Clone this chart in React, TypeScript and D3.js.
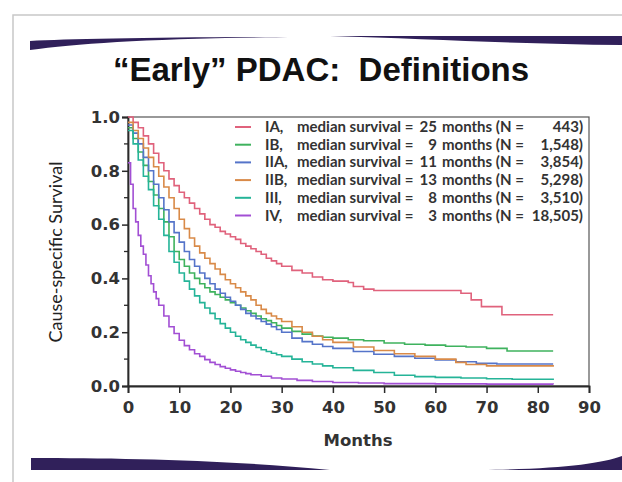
import React, { useEffect, useRef } from 'react';
import * as d3 from 'd3';

// Kaplan-Meier curves (months, cause-specific survival)
const stageLabels = ['IA,', 'IB,', 'IIA,', 'IIB,', 'III,', 'IV,'];
const medianMonths = ['25', '9', '11', '13', '8', '3'];
const patientCounts = ['443', '1,548', '3,854', '5,298', '3,510', '18,505'];
const stageColors = ['#e0627c', '#3fb25e', '#5574c9', '#d98a48', '#25b498', '#a24fd4'];

const monthsIA = [0, 1, 2, 3, 4, 5, 6, 7, 8, 9, 10, 11, 12, 13, 14, 15, 16, 17, 18, 19, 20, 21, 22, 23, 24, 25, 26, 27, 28, 29, 30, 32, 34, 36, 38, 40, 43, 44, 46, 48, 65, 67, 69, 73, 83];
const survIA = [1.0, 0.98, 0.96, 0.93, 0.9, 0.865, 0.83, 0.8, 0.77, 0.745, 0.72, 0.7, 0.68, 0.66, 0.64, 0.62, 0.6, 0.59, 0.575, 0.565, 0.555, 0.545, 0.53, 0.52, 0.51, 0.5, 0.49, 0.475, 0.465, 0.455, 0.445, 0.43, 0.42, 0.405, 0.395, 0.39, 0.385, 0.37, 0.36, 0.355, 0.345, 0.32, 0.295, 0.265, 0.265];

const monthsIB = [0, 1, 2, 3, 4, 5, 6, 7, 8, 9, 10, 11, 12, 13, 14, 15, 16, 17, 18, 19, 20, 21, 22, 23, 24, 25, 26, 27, 28, 29, 30, 32, 34, 36, 38, 40, 43, 46, 50, 54, 58, 62, 66, 70, 74, 83];
const survIB = [0.96, 0.92, 0.87, 0.82, 0.76, 0.71, 0.66, 0.61, 0.555, 0.5, 0.47, 0.445, 0.42, 0.4, 0.38, 0.365, 0.35, 0.34, 0.33, 0.32, 0.31, 0.3, 0.29, 0.28, 0.27, 0.26, 0.25, 0.243, 0.235, 0.225, 0.215, 0.203, 0.193, 0.186, 0.181, 0.178, 0.172, 0.168, 0.16, 0.155, 0.152, 0.148, 0.145, 0.14, 0.13, 0.13];

const monthsIIA = [0, 1, 2, 3, 4, 5, 6, 7, 8, 9, 10, 11, 12, 13, 14, 15, 16, 17, 18, 19, 20, 21, 22, 23, 24, 25, 26, 27, 28, 29, 30, 32, 34, 36, 38, 40, 44, 48, 52, 56, 60, 64, 68, 72, 83];
const survIIA = [0.97, 0.94, 0.9, 0.85, 0.8, 0.75, 0.7, 0.655, 0.61, 0.57, 0.535, 0.5, 0.47, 0.445, 0.42, 0.4, 0.38, 0.36, 0.345, 0.33, 0.315, 0.3, 0.285, 0.27, 0.26, 0.25, 0.24, 0.23, 0.22, 0.21, 0.2, 0.178, 0.165, 0.155, 0.147, 0.14, 0.128, 0.118, 0.11, 0.103, 0.097, 0.09, 0.084, 0.082, 0.082];

const monthsIIB = [0, 1, 2, 3, 4, 5, 6, 7, 8, 9, 10, 11, 12, 13, 14, 15, 16, 17, 18, 19, 20, 21, 22, 23, 24, 25, 26, 27, 28, 29, 30, 32, 34, 36, 38, 40, 44, 48, 52, 56, 60, 64, 66, 70, 83];
const survIIB = [0.98, 0.95, 0.92, 0.885, 0.85, 0.815, 0.78, 0.74, 0.7, 0.66, 0.62, 0.585, 0.55, 0.52, 0.495, 0.475, 0.455, 0.435, 0.415, 0.395, 0.38, 0.365, 0.35, 0.335, 0.32, 0.3, 0.285, 0.27, 0.26, 0.25, 0.24, 0.22, 0.2, 0.185, 0.172, 0.162, 0.145, 0.132, 0.12, 0.11, 0.1, 0.088, 0.08, 0.075, 0.072];

const monthsIII = [0, 1, 2, 3, 4, 5, 6, 7, 8, 9, 10, 11, 12, 13, 14, 15, 16, 17, 18, 19, 20, 21, 22, 23, 24, 25, 26, 27, 28, 29, 30, 32, 34, 36, 38, 40, 44, 48, 52, 56, 60, 65, 70, 75, 83];
const survIII = [0.95, 0.9, 0.84, 0.78, 0.73, 0.67, 0.62, 0.56, 0.5, 0.46, 0.42, 0.39, 0.36, 0.335, 0.31, 0.29, 0.27, 0.25, 0.232, 0.215, 0.2, 0.185, 0.172, 0.162, 0.152, 0.143, 0.135, 0.128, 0.122, 0.116, 0.11, 0.1, 0.09, 0.082, 0.075, 0.068, 0.058, 0.05, 0.04, 0.035, 0.032, 0.03, 0.027, 0.025, 0.022];

const monthsIV = [0, 0.5, 1, 1.5, 2, 2.5, 3, 3.5, 4, 4.5, 5, 5.5, 6, 7, 8, 9, 10, 11, 12, 13, 14, 15, 16, 17, 18, 19, 20, 21, 22, 23, 24, 26, 28, 30, 33, 36, 40, 45, 50, 60, 70, 83];
const survIV = [0.83, 0.75, 0.66, 0.61, 0.56, 0.52, 0.49, 0.45, 0.41, 0.38, 0.35, 0.325, 0.3, 0.26, 0.22, 0.195, 0.17, 0.15, 0.135, 0.12, 0.11, 0.098, 0.088, 0.08, 0.072, 0.066, 0.06, 0.055, 0.05, 0.046, 0.042, 0.036, 0.03, 0.026, 0.021, 0.017, 0.013, 0.011, 0.009, 0.008, 0.007, 0.006];

const seriesMonths = [monthsIA, monthsIB, monthsIIA, monthsIIB, monthsIII, monthsIV];
const seriesSurv = [survIA, survIB, survIIA, survIIB, survIII, survIV];

const xTicks = [0, 10, 20, 30, 40, 50, 60, 70, 80, 90];
const yTicks = [0, 0.2, 0.4, 0.6, 0.8, 1.0];
const yMinorTicks = [0.1, 0.3, 0.5, 0.7, 0.9];

const W = 622;
const H = 482;

const App: React.FC = () => {
  const svgRef = useRef<SVGSVGElement>(null);

  useEffect(() => {
    if (!svgRef.current) return;
    const svg = d3.select(svgRef.current);
    svg.selectAll('*').remove();

    // slide background with a faint edge
    svg.append('rect').attr('width', W).attr('height', H).attr('fill', '#fff');
    svg.append('rect')
      .attr('x', 13).attr('y', 15).attr('width', W).attr('height', H)
      .attr('fill', '#fff').attr('stroke', '#c8c8c8').attr('stroke-width', 1.5);

    // purple swooshes, top and bottom
    const band = '#30205a';
    svg.append('path')
      .attr('d', 'M30,41 C70,39 160,37 300,37 C160,38 80,43 30,50 Z')
      .attr('fill', band);
    svg.append('path')
      .attr('d', 'M330,36 L622,36 L622,45 C520,44 430,39 330,36 Z')
      .attr('fill', band);
    svg.append('path')
      .attr('d', 'M31,458 C120,458 230,460 330,470 L31,470 Z')
      .attr('fill', band);
    svg.append('path')
      .attr('d', 'M480,470 C560,469 600,464 622,456 L622,470 Z')
      .attr('fill', band);

    // title
    svg.append('text')
      .attr('x', 321).attr('y', 81)
      .attr('text-anchor', 'middle')
      .style('font-family', '"Liberation Sans", Arial, sans-serif')
      .style('font-weight', 'bold')
      .style('font-size', '33px')
      .attr('fill', '#111')
      .text('\u201CEarly\u201D PDAC:\u00A0\u00A0Definitions');

    const x = d3.scaleLinear().domain([0, 90]).range([128, 589]);
    const y = d3.scaleLinear().domain([0, 1]).range([386, 117]);
    const axisColor = '#2a2a2a';
    const font = 'Lato, "Open Sans", sans-serif';
    const tickFont = '"DejaVu Sans", Verdana, sans-serif';

    // plot frame
    svg.append('rect')
      .attr('x', x(0)).attr('y', y(1))
      .attr('width', x(90) - x(0)).attr('height', y(0) - y(1))
      .attr('fill', 'none').attr('stroke', '#555').attr('stroke-width', 1.2);

    // axes
    const gx = svg.append('g').attr('transform', `translate(0,${y(0)})`)
      .call(d3.axisBottom(x).tickValues(xTicks).tickSize(7).tickFormat(d3.format('d')));
    gx.select('.domain').attr('stroke', axisColor).attr('stroke-width', 1.8);
    gx.selectAll('.tick line').attr('stroke', axisColor).attr('stroke-width', 1.5);
    gx.selectAll('.tick text')
      .attr('dy', '1.0em').attr('fill', '#333')
      .style('font-family', tickFont).style('font-weight', 'bold').style('font-size', '16.5px');

    const gy = svg.append('g').attr('transform', `translate(${x(0)},0)`)
      .call(d3.axisLeft(y).tickValues(yTicks).tickSize(6).tickPadding(2).tickFormat(d3.format('.1f')));
    gy.select('.domain').attr('stroke', axisColor).attr('stroke-width', 1.8);
    gy.selectAll('.tick line').attr('stroke', axisColor).attr('stroke-width', 1.5);
    gy.selectAll('.tick text')
      .attr('fill', '#333')
      .style('font-family', tickFont).style('font-weight', 'bold').style('font-size', '16.5px');

    svg.append('g').selectAll('line').data(yMinorTicks).enter().append('line')
      .attr('x1', x(0) - 4).attr('x2', x(0))
      .attr('y1', d => y(d)).attr('y2', d => y(d))
      .attr('stroke', axisColor).attr('stroke-width', 1.3);

    // axis titles
    svg.append('text')
      .attr('x', 358).attr('y', 446)
      .attr('text-anchor', 'middle')
      .style('font-family', tickFont).style('font-weight', 'bold').style('font-size', '16.5px')
      .attr('fill', '#333')
      .text('Months');
    svg.append('text')
      .attr('transform', 'translate(62,252) rotate(-90)')
      .attr('text-anchor', 'middle')
      .style('font-family', font).style('font-size', '18px')
      .attr('fill', '#222')
      .text('Cause-specific Survival');

    // survival curves (step functions)
    const line = d3.line<[number, number]>()
      .x(d => x(d[0]))
      .y(d => y(d[1]))
      .curve(d3.curveStepAfter);

    seriesMonths.forEach((months, i) => {
      const pts: [number, number][] = months.map((m, j) => [m, seriesSurv[i][j]]);
      svg.append('path')
        .datum(pts)
        .attr('d', line)
        .attr('fill', 'none')
        .attr('stroke', stageColors[i])
        .attr('stroke-width', 1.6);
    });

    // legend
    const legend = svg.append('g');
    stageLabels.forEach((lab, i) => {
      const cy = 127 + i * 17.7;
      const row = legend.append('g')
        .style('font-family', font).style('font-weight', 'bold').style('font-size', '15px')
        .attr('fill', '#333');
      row.append('line')
        .attr('x1', 235).attr('x2', 251).attr('y1', cy).attr('y2', cy)
        .attr('stroke', stageColors[i]).attr('stroke-width', 2);
      row.append('text').attr('x', 265).attr('y', cy + 5).text(lab);
      row.append('text').attr('x', 297).attr('y', cy + 5).text('median survival =');
      row.append('text').attr('x', 437).attr('y', cy + 5).attr('text-anchor', 'end').text(medianMonths[i]);
      row.append('text').attr('x', 442).attr('y', cy + 5).text('months (N =');
      row.append('text').attr('x', 583).attr('y', cy + 5).attr('text-anchor', 'end').text(patientCounts[i] + ')');
    });
  }, []);

  return (
    <svg
      ref={svgRef}
      width={W}
      height={H}
      style={{ position: 'absolute', left: 0, top: 0 }}
    />
  );
};

export default App;
